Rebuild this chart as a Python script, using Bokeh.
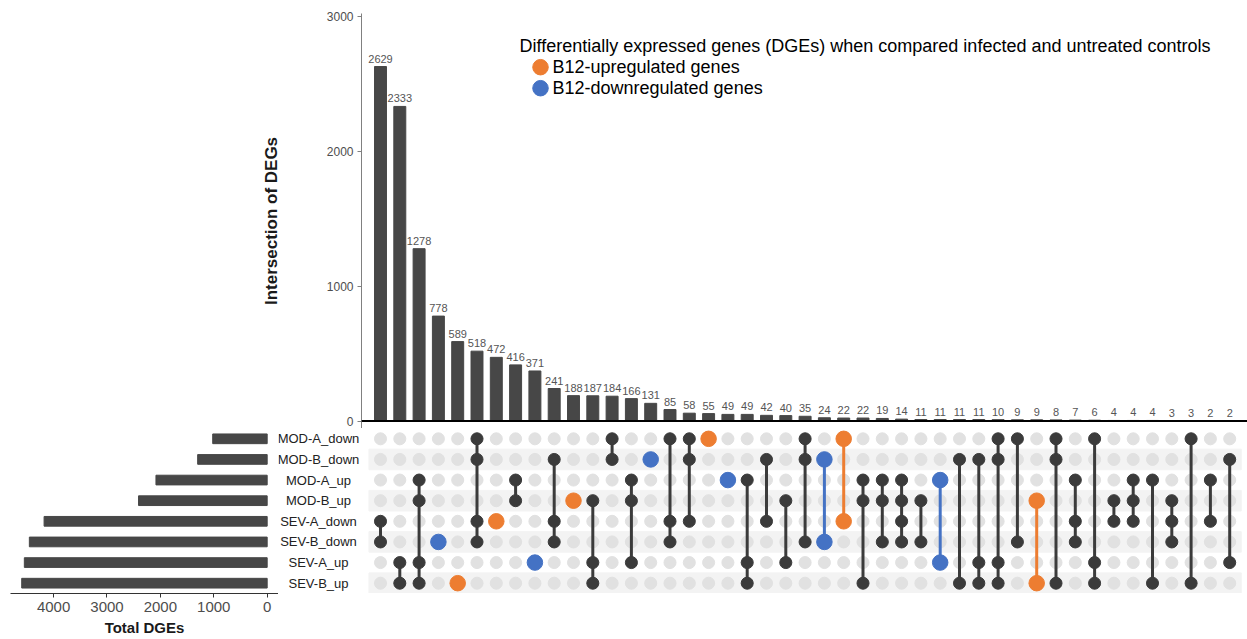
from bokeh.plotting import figure
from bokeh.models import Range1d, Span, FixedTicker
from bokeh.layouts import column, row
from bokeh.embed import file_html
from bokeh.resources import INLINE
from bokeh.core.properties import value

# ---------------- data ----------------
sets = ["MOD-A_down", "MOD-B_down", "MOD-A_up", "MOD-B_up",
        "SEV-A_down", "SEV-B_down", "SEV-A_up", "SEV-B_up"]
set_totals = [1020, 1302, 2083, 2409, 4178, 4454, 4548, 4597]

counts = [2629, 2333, 1278, 778, 589, 518, 472, 416, 371, 241,
          188, 187, 184, 166, 131, 85, 58, 55, 49, 49,
          42, 40, 35, 24, 22, 22, 19, 14, 11, 11,
          11, 11, 10, 9, 9, 8, 7, 6, 4, 4,
          4, 3, 3, 2, 2]

members = [
    ("SEV-A_down", "SEV-B_down"),
    ("SEV-A_up", "SEV-B_up"),
    ("MOD-A_up", "MOD-B_up", "SEV-A_up", "SEV-B_up"),
    ("SEV-B_down",),
    ("SEV-B_up",),
    ("MOD-A_down", "MOD-B_down", "SEV-A_down", "SEV-B_down"),
    ("SEV-A_down",),
    ("MOD-A_up", "MOD-B_up"),
    ("SEV-A_up",),
    ("MOD-B_down", "SEV-A_down", "SEV-B_down"),
    ("MOD-B_up",),
    ("MOD-B_up", "SEV-A_up", "SEV-B_up"),
    ("MOD-A_down", "MOD-B_down"),
    ("MOD-A_up", "MOD-B_up", "SEV-A_up"),
    ("MOD-B_down",),
    ("MOD-A_down", "SEV-A_down", "SEV-B_down"),
    ("MOD-A_down", "MOD-B_down", "SEV-A_down"),
    ("MOD-A_down",),
    ("MOD-A_up",),
    ("MOD-A_up", "SEV-A_up", "SEV-B_up"),
    ("MOD-B_down", "SEV-A_down"),
    ("MOD-B_up", "SEV-A_up"),
    ("MOD-A_down", "MOD-B_down", "SEV-B_down"),
    ("MOD-B_down", "SEV-B_down"),
    ("MOD-A_down", "SEV-A_down"),
    ("MOD-A_up", "MOD-B_up", "SEV-B_up"),
    ("MOD-A_up", "MOD-B_up", "SEV-B_down"),
    ("MOD-A_up", "MOD-B_up", "SEV-A_down", "SEV-B_down"),
    ("MOD-B_up", "SEV-B_down"),
    ("MOD-A_up", "SEV-A_up"),
    ("MOD-B_down", "SEV-B_up"),
    ("MOD-B_down", "SEV-A_up", "SEV-B_up"),
    ("MOD-A_down", "MOD-B_down", "SEV-A_up", "SEV-B_up"),
    ("MOD-A_down", "SEV-B_down"),
    ("MOD-B_up", "SEV-B_up"),
    ("MOD-A_down", "MOD-B_down", "SEV-B_up"),
    ("MOD-A_up", "SEV-A_down", "SEV-B_down"),
    ("MOD-A_down", "SEV-A_up", "SEV-B_up"),
    ("MOD-B_up", "SEV-A_down"),
    ("MOD-A_up", "MOD-B_up", "SEV-A_down"),
    ("MOD-A_up", "SEV-B_up"),
    ("MOD-B_up", "SEV-A_down", "SEV-B_down"),
    ("MOD-A_down", "SEV-B_up"),
    ("MOD-A_up", "SEV-A_down"),
    ("MOD-B_down", "SEV-A_up"),
]

b12 = ["", "", "", "down", "up", "", "up", "", "down", "",
       "up", "", "", "", "down", "", "", "up", "down", "",
       "", "", "", "down", "up", "", "", "", "", "down",
       "", "", "", "", "up", "", "", "", "", "",
       "", "", "", "", ""]

bar_ticks = [0, 1000, 2000, 3000]
total_ticks = [0, 1000, 2000, 3000, 4000]
legend_title = "Differentially expressed genes (DGEs) when compared infected and untreated controls"
legend_labels = ["B12-upregulated genes", "B12-downregulated genes"]
legend_kinds = ["up", "down"]

# ---------------- style ----------------
FONT = "Liberation Sans"
DARK = "#3b3b3b"
BAR = "#474747"
EMPTY = "#e1e1e1"
BAND = "#f3f3f3"
COLORS = {"": DARK, "up": "#ED7D31", "down": "#4472C4"}

PX_COL = 19.3          # pixels per intersection column
n = len(counts)
idx = list(range(n))
row_of = {s: i for i, s in enumerate(sets)}

# ---------------- top: intersection sizes ----------------
TOP_LEFT = 361
TOP_FW, TOP_FH = 1247 - TOP_LEFT, 415
TOP_T = 13
ZERO_Y = 420.5
PX_PER_UNIT = (ZERO_Y - 16) / 3000.0
y_lo = -(TOP_T + TOP_FH - ZERO_Y) / PX_PER_UNIT
y_hi = (ZERO_Y - TOP_T) / PX_PER_UNIT
x0_top = -(380 - TOP_LEFT) / PX_COL
top = figure(frame_width=TOP_FW, frame_height=TOP_FH,
             x_range=Range1d(x0_top, x0_top + TOP_FW / PX_COL),
             y_range=Range1d(y_lo, y_hi),
             x_axis_location=None,
             output_backend="svg", toolbar_location=None,
             min_border_left=TOP_LEFT, min_border_right=0,
             min_border_top=TOP_T, min_border_bottom=0)
top.outline_line_color = None
top.grid.visible = False
ya = top.yaxis[0]
ya.ticker = FixedTicker(ticks=bar_ticks)
ya.axis_line_color = "#808080"
ya.major_tick_line_color = "#808080"
ya.major_tick_out = 4
ya.major_tick_in = 0
ya.minor_tick_line_color = None
ya.major_label_standoff = 4
ya.major_label_text_font = FONT
ya.major_label_text_font_size = "12px"
ya.major_label_text_color = "#4d4d4d"
ya.axis_label = "Intersection of DEGs"
ya.axis_label_text_font = FONT
ya.axis_label_text_font_size = "17px"
ya.axis_label_text_font_style = "bold"
ya.axis_label_text_color = "#1a1a1a"
ya.axis_label_standoff = 43

top.vbar(x=idx, top=counts, width=0.62, color=BAR)
top.text(x=idx, y=counts, text=[str(c) for c in counts],
         text_align="center", text_baseline="bottom", y_offset=-4,
         text_font=value(FONT), text_font_size="11px", text_color="#555555")
top.add_layout(Span(location=0, dimension="width", line_color="black", line_width=2))

# legend (placed by page pixel positions converted to data units)
def tx(px):
    return x0_top + (px - TOP_LEFT) / PX_COL

def ty(py):
    return (ZERO_Y - py) / PX_PER_UNIT

top.text(x=[tx(519)], y=[ty(45)], text=[legend_title],
         text_align="left", text_baseline="middle",
         text_font=value(FONT), text_font_size="18px", text_color="black")
top.scatter(x=[tx(540)] * 2, y=[ty(66.7), ty(87.7)], size=15.5,
            color=[COLORS[k] for k in legend_kinds])
top.text(x=[tx(552)] * 2, y=[ty(66.7), ty(87.7)], text=legend_labels,
         text_align="left", text_baseline="middle",
         text_font=value(FONT), text_font_size="18px", text_color="black")

# ---------------- shared row range ----------------
row_range = Range1d(7.5, -0.5)
MAT_FH = 165

# ---------------- left: set sizes ----------------
LEFT_L = 10
LEFT_FW = 278 - LEFT_L
left = figure(frame_width=LEFT_FW, frame_height=MAT_FH,
              x_range=Range1d(4807, -212), y_range=row_range,
              y_axis_location=None,
              output_backend="svg", toolbar_location=None,
              min_border_left=LEFT_L, min_border_right=0,
              min_border_top=0, min_border_bottom=0)
left.outline_line_color = None
left.grid.visible = False
left.hbar(y=[row_of[s] for s in sets], left=0, right=set_totals,
          height=0.47, color=BAR)
xa = left.xaxis[0]
xa.ticker = FixedTicker(ticks=total_ticks)
xa.axis_line_color = "#333333"
xa.major_tick_line_color = "#333333"
xa.major_tick_out = 4
xa.major_tick_in = 0
xa.minor_tick_line_color = None
xa.major_label_standoff = 4
xa.major_label_text_font = FONT
xa.major_label_text_font_size = "15px"
xa.major_label_text_color = "#4d4d4d"
xa.axis_label = "Total DGEs"
xa.axis_label_text_font = FONT
xa.axis_label_text_font_size = "15px"
xa.axis_label_text_font_style = "bold"
xa.axis_label_text_color = "#1a1a1a"
xa.axis_label_standoff = 4

# ---------------- matrix ----------------
MAT_L = 278
MAT_FW = 1247 - MAT_L
x0_mat = -(380 - MAT_L) / PX_COL
mat = figure(frame_width=MAT_FW, frame_height=MAT_FH,
             x_range=Range1d(x0_mat, x0_mat + MAT_FW / PX_COL),
             y_range=row_range,
             x_axis_location=None, y_axis_location=None,
             output_backend="svg", toolbar_location=None,
             min_border_left=0, min_border_right=0,
             min_border_top=0, min_border_bottom=0)
mat.outline_line_color = None
mat.grid.visible = False

band_rows = [i for i in range(len(sets)) if i % 2 == 1]
mat.hbar(y=band_rows, left=-0.6, right=n - 0.4, height=1.0, color=BAND)

ex, ey = [], []
for i in idx:
    for r in range(len(sets)):
        ex.append(i)
        ey.append(r)
mat.scatter(x=ex, y=ey, size=12, color=EMPTY)

sx0, sy0, sy1, scol = [], [], [], []
for i, mem in enumerate(members):
    rows_i = [row_of[s] for s in mem]
    if len(rows_i) > 1:
        sx0.append(i)
        sy0.append(min(rows_i))
        sy1.append(max(rows_i))
        scol.append(COLORS[b12[i]])
mat.segment(x0=sx0, y0=sy0, x1=sx0, y1=sy1, line_width=3, line_color=scol)

fx, fy, fc, fs = [], [], [], []
for i, mem in enumerate(members):
    for s in mem:
        fx.append(i)
        fy.append(row_of[s])
        fc.append(COLORS[b12[i]])
        fs.append(12 if b12[i] == "" else 15.5)
mat.scatter(x=fx, y=fy, size=fs, color=fc)

mat.text(x=[x0_mat + (318 - MAT_L) / PX_COL] * len(sets), y=[row_of[s] for s in sets],
         text=sets, text_align="center", text_baseline="middle",
         text_font=value(FONT), text_font_size="13px", text_color="#222222")

page = column(top, row(left, mat))
open("out.html", "w").write(file_html(page, INLINE))
